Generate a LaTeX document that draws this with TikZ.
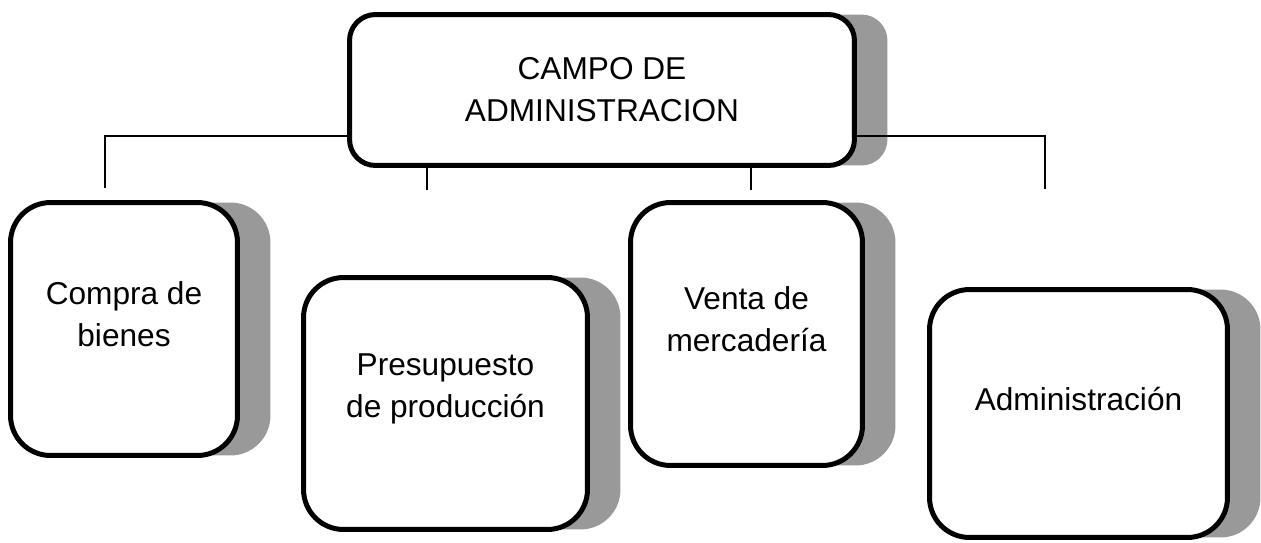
\documentclass[tikz,border=0pt]{standalone}
\usepackage{fontspec}
\setmainfont{Liberation Sans}
\usetikzlibrary{positioning,shadows}
\definecolor{shadowgray}{RGB}{153,153,153}
\tikzset{
  box/.style={draw, line width=0.1cm, rounded corners=0.8cm, fill=white,
    drop shadow={shadow xshift=0.66cm, shadow yshift=0cm, fill=shadowgray, opacity=1}},
  txt/.style={align=center, font=\fontsize{18}{24}\selectfont},
  conn/.style={line width=0.8pt}
}

\begin{document}
\begin{tikzpicture}[x=0.02cm,y=-0.02cm]
		\useasboundingbox (0,0) rectangle (1261,542);
		
		\node[box, txt, rounded corners=0.52cm, minimum width=10.1cm, minimum height=3.02cm] (top) at (602,90) {CAMPO DE\\ADMINISTRACION};
		
		\node[box, minimum width=4.54cm, minimum height=5.06cm] (compra) at (124,329) {};
		\node[box, minimum width=5.68cm, minimum height=5.04cm] (presu) at (445.5,403.5) {};
		\node[box, minimum width=4.64cm, minimum height=5.26cm] (venta) at (746.5,334) {};
		\node[box, minimum width=5.96cm, minimum height=4.96cm] (admin) at (1078.5,413.5) {};
		
		\node[txt] (compra-txt) at ([yshift=0.3cm]compra.center) {Compra de\\bienes};
		\node[txt] (presu-txt) at ([yshift=0.3cm]presu.center) {Presupuesto\\de producción};
		\node[txt] (venta-txt) at ([yshift=0.3cm]venta.center) {Venta de\\mercadería};
		\node[txt] (admin-txt) at ([yshift=0.3cm]admin.center) {Administración};
		
		\coordinate (hl) at (0,136);
		\coordinate (t1) at (105,188);
		\coordinate (t2) at (427,190);
		\coordinate (t3) at (751,190);
		\coordinate (t4) at (1045,189);
		
		\draw[conn] (top.west |- hl) -| (t1);
		\draw[conn] (top.east |- hl) -| (t4);
		\draw[conn] (top.south -| t2) -- (t2);
		\draw[conn] (top.south -| t3) -- (t3);
\end{tikzpicture}
\end{document}
